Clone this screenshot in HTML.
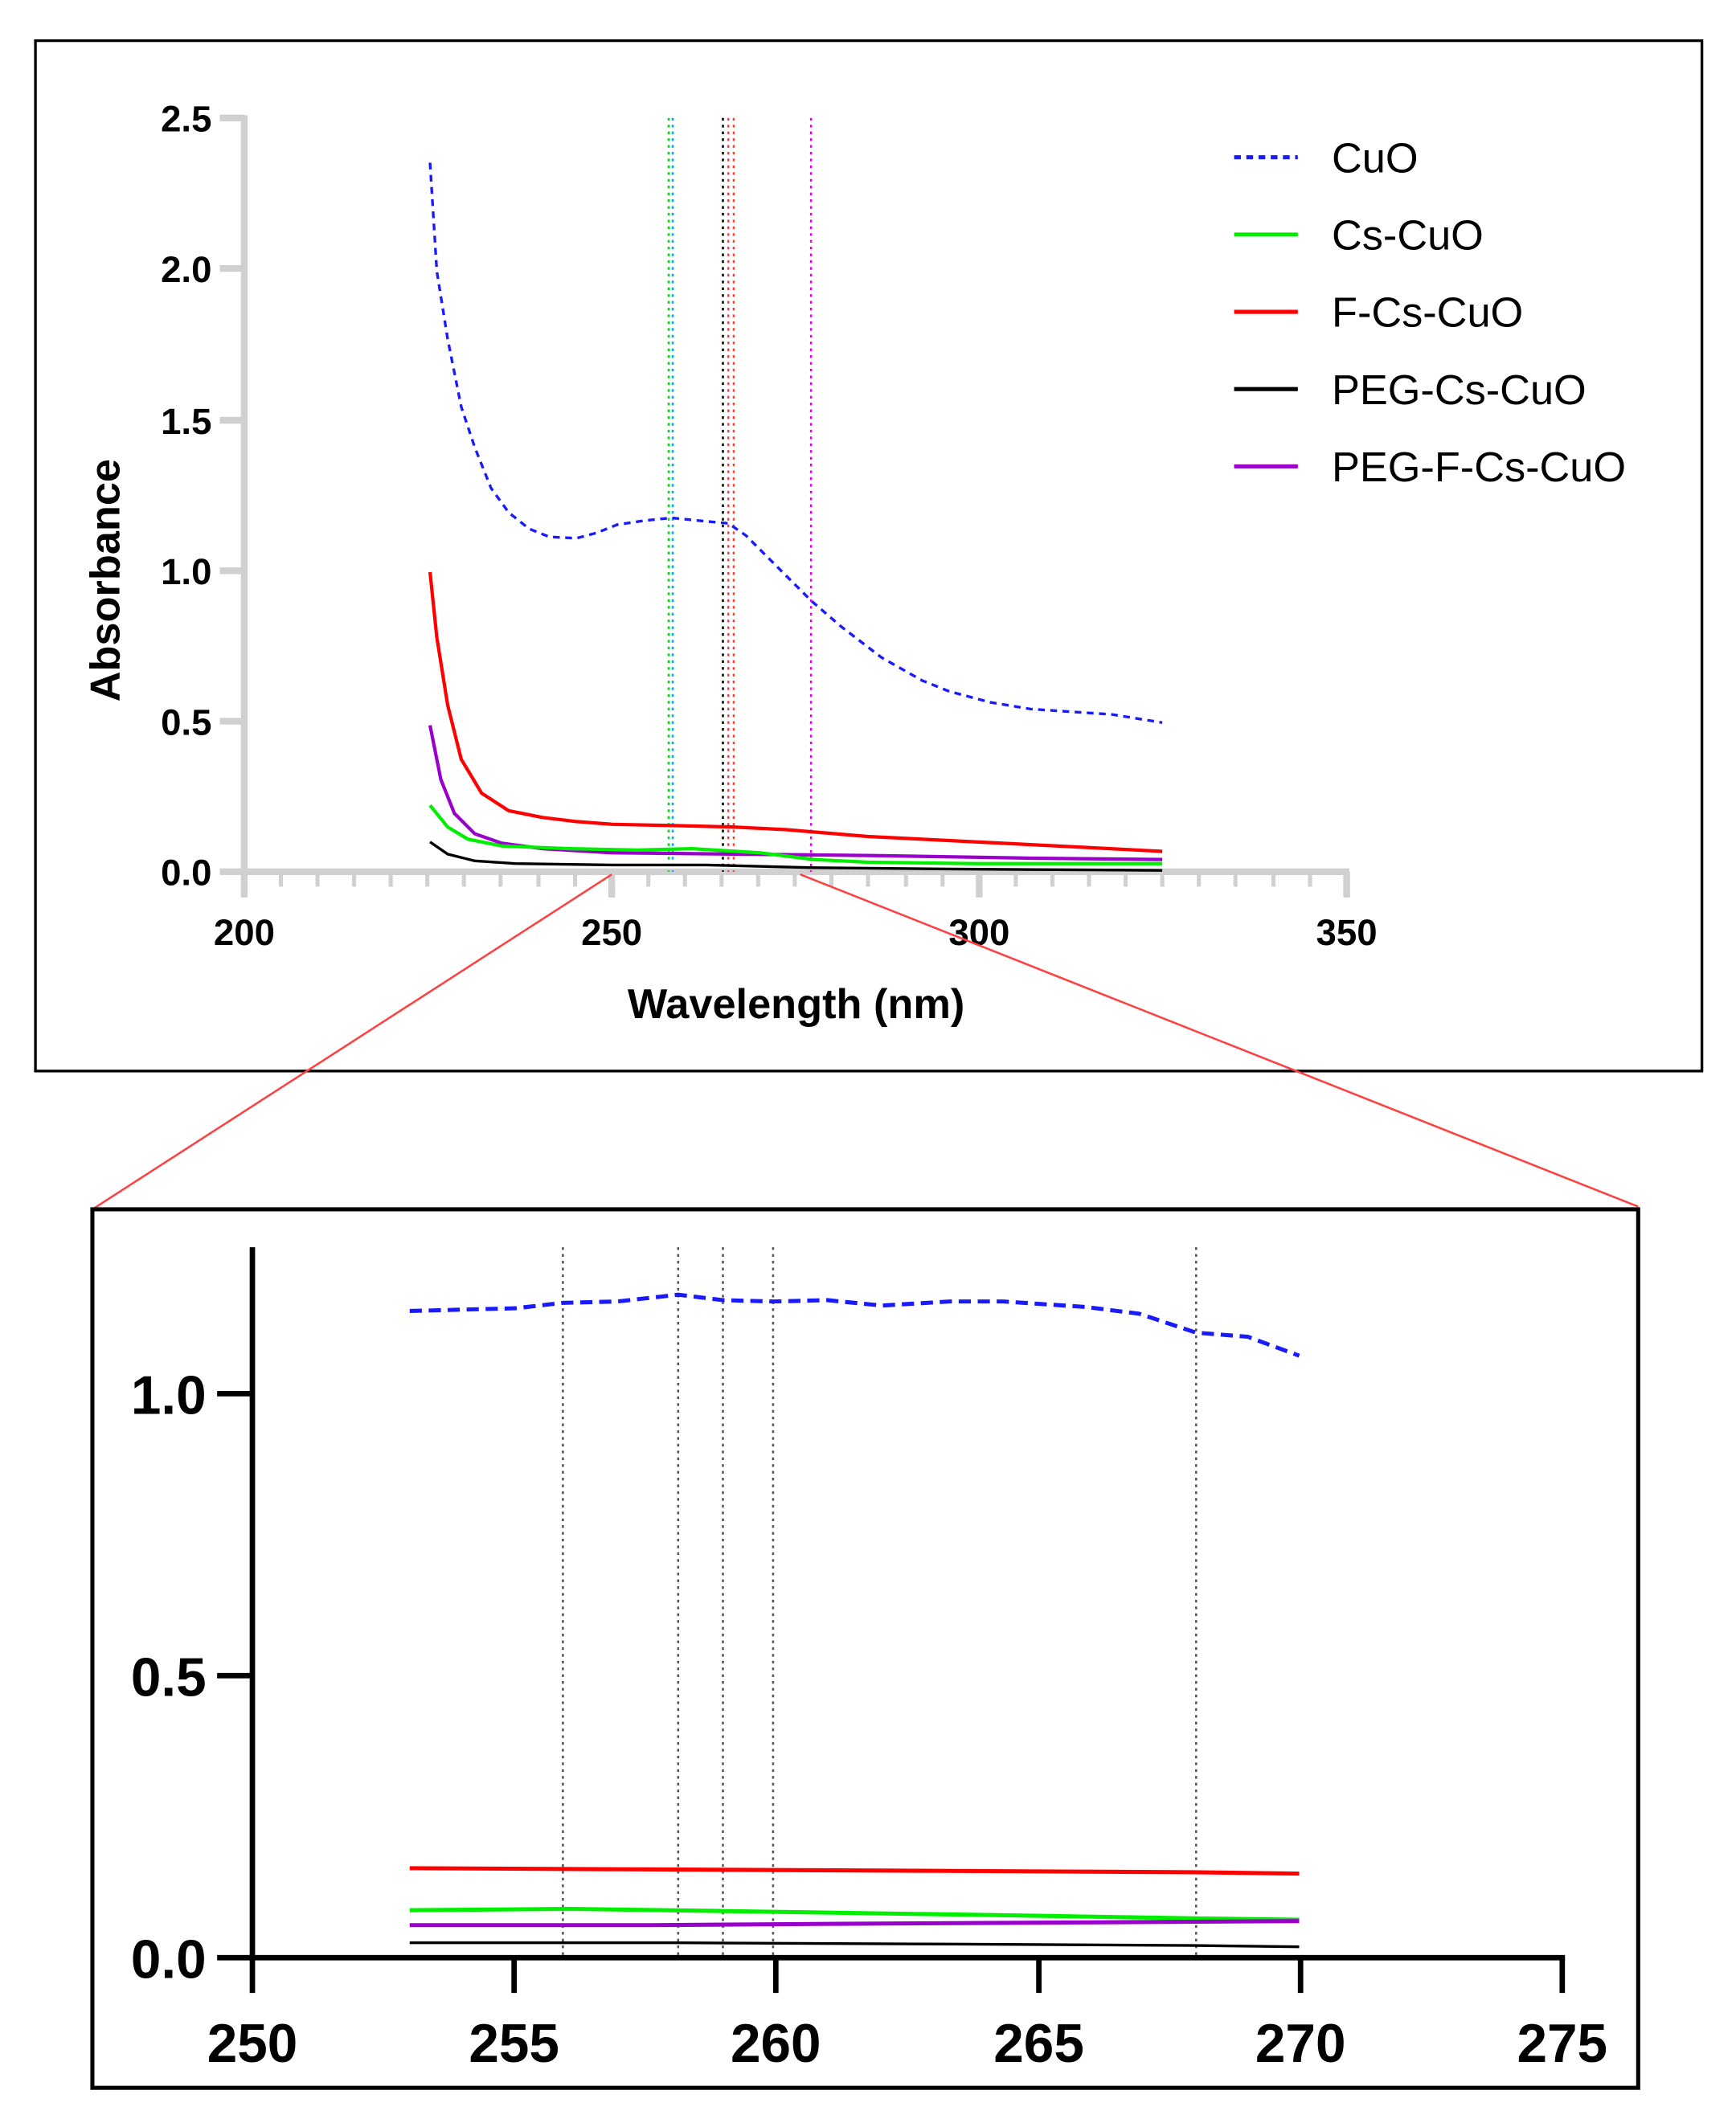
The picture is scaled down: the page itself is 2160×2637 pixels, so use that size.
<!DOCTYPE html>
<html><head><meta charset="utf-8"><style>html,body{margin:0;padding:0;background:#fff}svg{display:block}</style></head>
<body>
<svg width="2160" height="2637" viewBox="0 0 1280 1563" xmlns="http://www.w3.org/2000/svg" font-family="Liberation Sans, Arial, sans-serif">
<rect width="1280" height="1563" fill="#fff"/>
<!-- top panel -->
<rect x="26" y="30" width="1229" height="760" fill="none" stroke="#000" stroke-width="2"/>
<g stroke="#d0d0d0" stroke-width="5" fill="none">
<line x1="180" y1="85" x2="180" y2="645"/>
<line x1="178" y1="643" x2="995" y2="643"/>
<line x1="162" y1="87" x2="180" y2="87"/><line x1="162" y1="198" x2="180" y2="198"/><line x1="162" y1="310" x2="180" y2="310"/><line x1="162" y1="421" x2="180" y2="421"/><line x1="162" y1="532" x2="180" y2="532"/><line x1="162" y1="643" x2="180" y2="643"/>
<line x1="180" y1="643" x2="180" y2="662"/><line x1="451" y1="643" x2="451" y2="662"/><line x1="722" y1="643" x2="722" y2="662"/><line x1="993" y1="643" x2="993" y2="662"/>
</g>
<g stroke="#d0d0d0" stroke-width="3">
<line x1="207" y1="643" x2="207" y2="654"/><line x1="234" y1="643" x2="234" y2="654"/><line x1="261" y1="643" x2="261" y2="654"/><line x1="288" y1="643" x2="288" y2="654"/><line x1="315" y1="643" x2="315" y2="654"/><line x1="342" y1="643" x2="342" y2="654"/><line x1="369" y1="643" x2="369" y2="654"/><line x1="397" y1="643" x2="397" y2="654"/><line x1="424" y1="643" x2="424" y2="654"/>
<line x1="478" y1="643" x2="478" y2="654"/><line x1="505" y1="643" x2="505" y2="654"/><line x1="532" y1="643" x2="532" y2="654"/><line x1="559" y1="643" x2="559" y2="654"/><line x1="586" y1="643" x2="586" y2="654"/><line x1="613" y1="643" x2="613" y2="654"/><line x1="640" y1="643" x2="640" y2="654"/><line x1="668" y1="643" x2="668" y2="654"/><line x1="695" y1="643" x2="695" y2="654"/>
<line x1="749" y1="643" x2="749" y2="654"/><line x1="776" y1="643" x2="776" y2="654"/><line x1="803" y1="643" x2="803" y2="654"/><line x1="830" y1="643" x2="830" y2="654"/><line x1="857" y1="643" x2="857" y2="654"/><line x1="884" y1="643" x2="884" y2="654"/><line x1="911" y1="643" x2="911" y2="654"/><line x1="939" y1="643" x2="939" y2="654"/><line x1="966" y1="643" x2="966" y2="654"/>
</g>
<g font-size="27" font-weight="bold" text-anchor="end" fill="#000">
<text x="156" y="97">2.5</text><text x="156" y="208">2.0</text><text x="156" y="320">1.5</text><text x="156" y="431">1.0</text><text x="156" y="542">0.5</text><text x="156" y="653">0.0</text>
</g>
<g font-size="27" font-weight="bold" text-anchor="middle">
<text x="180" y="697">200</text><text x="451" y="697">250</text><text x="722" y="697">300</text><text x="993" y="697">350</text>
</g>
<text x="587" y="751" font-size="31" font-weight="bold" text-anchor="middle">Wavelength (nm)</text>
<text transform="translate(88,428) rotate(-90)" font-size="31" font-weight="bold" text-anchor="middle">Absorbance</text>
<!-- vertical dotted -->
<g stroke-width="1.5" stroke-dasharray="2,3">
<line x1="493" y1="87" x2="493" y2="643" stroke="#00e000"/>
<line x1="496" y1="87" x2="496" y2="643" stroke="#00aaff"/>
<line x1="533" y1="87" x2="533" y2="643" stroke="#000"/>
<line x1="537" y1="87" x2="537" y2="643" stroke="#ff4040"/>
<line x1="541" y1="87" x2="541" y2="643" stroke="#ff4040"/>
<line x1="598" y1="87" x2="598" y2="643" stroke="#e000e0"/>
</g>
<!-- curves -->
<polyline fill="none" stroke="#1a1aff" stroke-width="2" stroke-dasharray="5,4" points="317,120 322,200 330,250 340,300 350,330 362,360 375,378 390,390 405,396 425,397 440,393 455,387 475,384 495,382 515,384 537,386 550,395 570,415 598,443 620,462 650,485 680,502 700,510 730,518 760,523 790,525 820,527 857,533"/>
<polyline fill="none" stroke="#ff0000" stroke-width="2.5" points="317,422 322,470 330,520 340,560 355,585 375,598 400,603 425,606 451,608 500,609 540,610 580,612 640,617 720,621 800,625 857,628"/>
<polyline fill="none" stroke="#9900cc" stroke-width="2.5" points="317,535 325,575 335,600 350,615 370,622 400,626 451,629 540,630 640,631 760,633 857,634"/>
<polyline fill="none" stroke="#00ee00" stroke-width="2.5" points="317,594 330,610 345,619 370,624 420,626 470,627 510,626 560,629 600,634 640,636 720,637 857,637"/>
<polyline fill="none" stroke="#000" stroke-width="2" points="317,621 330,630 350,635 380,637 451,638 520,638 600,640 700,641 857,642"/>
<!-- legend -->
<g stroke-width="3">
<line x1="910" y1="116" x2="957" y2="116" stroke="#1a1aff" stroke-dasharray="5,4"/>
<line x1="910" y1="173" x2="957" y2="173" stroke="#00ee00"/>
<line x1="910" y1="230" x2="957" y2="230" stroke="#ff0000"/>
<line x1="910" y1="287" x2="957" y2="287" stroke="#000"/>
<line x1="910" y1="344" x2="957" y2="344" stroke="#9900cc"/>
</g>
<g font-size="31">
<text x="982" y="127">CuO</text><text x="982" y="184">Cs-CuO</text><text x="982" y="241">F-Cs-CuO</text><text x="982" y="298">PEG-Cs-CuO</text><text x="982" y="355">PEG-F-Cs-CuO</text>
</g>
<!-- zoom lines -->
<line x1="451" y1="645" x2="68" y2="892" stroke="#ff4040" stroke-width="1.5"/>
<line x1="590" y1="645" x2="1208" y2="890" stroke="#ff4040" stroke-width="1.5"/>
<!-- bottom panel -->
<rect x="68" y="892" width="1140" height="648" fill="#fff" stroke="#000" stroke-width="3"/>
<g stroke="#000" stroke-width="4">
<line x1="186" y1="920" x2="186" y2="1446"/>
<line x1="184" y1="1444" x2="1154" y2="1444"/>
<line x1="160" y1="1028" x2="186" y2="1028"/><line x1="160" y1="1236" x2="186" y2="1236"/><line x1="160" y1="1444" x2="186" y2="1444"/>
<line x1="379" y1="1444" x2="379" y2="1470"/><line x1="572" y1="1444" x2="572" y2="1470"/><line x1="766" y1="1444" x2="766" y2="1470"/><line x1="959" y1="1444" x2="959" y2="1470"/><line x1="1152" y1="1444" x2="1152" y2="1470"/><line x1="186" y1="1444" x2="186" y2="1470"/>
</g>
<g font-size="40" font-weight="bold" text-anchor="end">
<text x="152" y="1043">1.0</text><text x="152" y="1251">0.5</text><text x="152" y="1459">0.0</text>
</g>
<g font-size="40" font-weight="bold" text-anchor="middle">
<text x="186" y="1521">250</text><text x="379" y="1521">255</text><text x="572" y="1521">260</text><text x="766" y="1521">265</text><text x="959" y="1521">270</text><text x="1152" y="1521">275</text>
</g>
<g stroke="#555" stroke-width="1.5" stroke-dasharray="2,3">
<line x1="415" y1="920" x2="415" y2="1442"/><line x1="500" y1="920" x2="500" y2="1442"/><line x1="533" y1="920" x2="533" y2="1442"/><line x1="570" y1="920" x2="570" y2="1442"/><line x1="882" y1="920" x2="882" y2="1442"/>
</g>
<polyline fill="none" stroke="#1a1aff" stroke-width="3" stroke-dasharray="9,5" points="302,967 340,966 380,965 415,961 455,960 500,955 533,959 570,960 610,959 650,963 700,960 740,960 800,964 840,969 882,983 920,986 958,1000"/>
<polyline fill="none" stroke="#ff0000" stroke-width="3" points="302,1378 500,1379 700,1380 880,1381 958,1382"/>
<polyline fill="none" stroke="#00ee00" stroke-width="3" points="302,1409 420,1408 560,1410 760,1413 880,1415 958,1416"/>
<polyline fill="none" stroke="#9900cc" stroke-width="3" points="302,1420 480,1420 620,1419 800,1418 958,1417"/>
<polyline fill="none" stroke="#000" stroke-width="2" points="302,1433 500,1433 700,1434 880,1435 958,1436"/>
</svg>
</body></html>
